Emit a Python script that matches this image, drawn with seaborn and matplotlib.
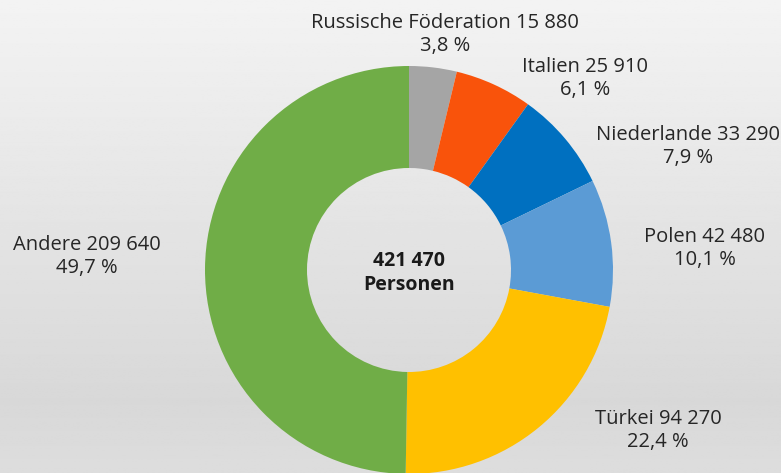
import matplotlib
matplotlib.use('Agg')
import matplotlib.pyplot as plt
import numpy as np
import seaborn as sns

# Daten
laender = ['Russische Föderation', 'Italien', 'Niederlande', 'Polen', 'Türkei', 'Andere']
personen = [15880, 25910, 33290, 42480, 94270, 209640]
anteile = ['3,8 %', '6,1 %', '7,9 %', '10,1 %', '22,4 %', '49,7 %']
farben = ['#a5a5a5', '#f9530b', '#0070c0', '#5b9bd5', '#ffc000', '#70ad47']
gesamt = '421 470'

sns.set_theme(style='white')
plt.rcParams['font.family'] = ['Open Sans', 'DejaVu Sans']

W, H = 781, 473
fig = plt.figure(figsize=(W / 100, H / 100), dpi=100)

# Hintergrund mit Verlauf
bg = fig.add_axes([0, 0, 1, 1])
bg.set_axis_off()
stufen = np.interp(np.linspace(0, 1, 256), [0, 0.85, 1], [0.953, 0.847, 0.867])
bg.imshow(np.tile(stufen[:, None], (1, 2)), cmap='gray', vmin=0, vmax=1,
          aspect='auto', extent=[0, 1, 0, 1])

# Ringdiagramm
cx, cy, r = 409, 270, 204
ax = fig.add_axes([0, 0, 1, 1])
ax.set_axis_off()
ax.patch.set_alpha(0)
ax.pie(personen, colors=farben, startangle=90, counterclock=False, radius=1,
       wedgeprops=dict(width=0.5, linewidth=0))
ax.set_xlim(-cx / r, (W - cx) / r)
ax.set_ylim(-(H - cy) / r, cy / r)
ax.set_aspect('auto')

def fmt(n):
    return f'{n:,}'.replace(',', ' ')

# Beschriftungen (Pixelpositionen -> Datenkoordinaten)
label_px = [(445, 35), (585, 79), (688, 147), (705, 249), (658, 430), (87, 257)]
for name, wert, anteil, (px, py) in zip(laender, personen, anteile, label_px):
    ax.text((px - cx) / r, (cy - py) / r, f'{name} {fmt(wert)}\n{anteil}',
            ha='center', va='center', fontsize=14.5, color='#262626', linespacing=1.2)

ax.text(0, (cy - 273) / r, f'{gesamt}\nPersonen', ha='center', va='center',
        fontsize=14, fontweight='bold', color='#1a1a1a', linespacing=1.2)

plt.savefig('out.png', dpi=100)
